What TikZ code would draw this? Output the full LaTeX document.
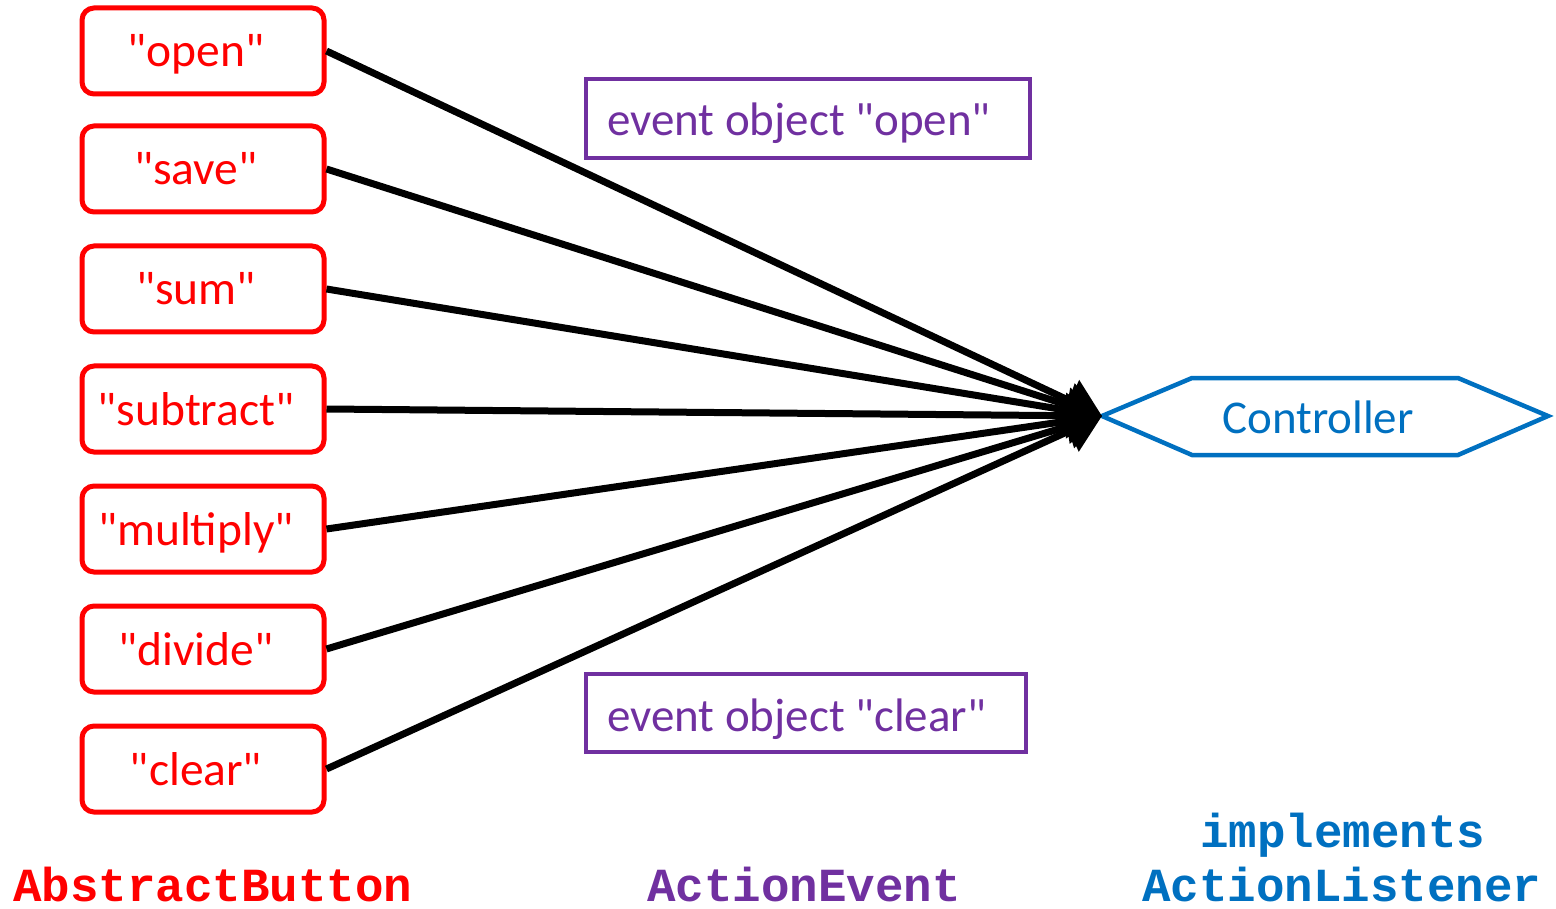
\documentclass[tikz,border=0pt]{standalone}
\usepackage{fontspec}
\setmainfont{Carlito}[Ligatures=TeXOff]
\newfontfamily\codefont{Liberation Mono}
\usetikzlibrary{arrows.meta}
\definecolor{btnred}{HTML}{FF0000}
\definecolor{evpurple}{HTML}{7030A0}
\definecolor{ctrlblue}{HTML}{0070C0}
\begin{document}
\begin{tikzpicture}[x=1pt,y=-1pt,
  btn/.style={draw=btnred, line width=5pt, rounded corners=12pt, text=btnred,
    minimum width=242pt, minimum height=86pt, inner sep=0pt,
    text height=34pt, text depth=2pt, font=\fontsize{47.5}{56}\selectfont,
    execute at end node={\hspace*{14pt}}},
  evtext/.style={text=evpurple, anchor=base west, inner sep=0pt, font=\fontsize{47}{56}\selectfont},
  conn/.style={line width=7pt, -{Triangle[length=36pt,width=44pt]}},
  code/.style={inner sep=0pt, anchor=base, font=\codefont\bfseries\fontsize{47.5}{56}\selectfont}
]
\useasboundingbox (0,0) rectangle (1556,909);

% buttons
\node[btn] (open) at (203,51) {"open"};
\node[btn] (save) at (203,169) {"save"};
\node[btn] (sum) at (203,289) {"sum"};
\node[btn] (subtract) at (203,409) {"subtract"};
\node[btn] (multiply) at (203,529) {"multiply"};
\node[btn] (divide) at (203,649) {"divide"};
\node[btn] (clear) at (203,769) {"clear"};

% controller hexagon
\coordinate (tip) at (1102,416);
\coordinate (htl) at (1192,378);
\coordinate (htr) at (1458,378);
\coordinate (hr) at (1548,416);
\coordinate (hbr) at (1458,455);
\coordinate (hbl) at (1192,455);
\draw[ctrlblue, line width=4.5pt, line join=miter] (tip) -- (htl) -- (htr) -- (hr) -- (hbr) -- (hbl) -- cycle;
\node[text=ctrlblue, anchor=base, inner sep=0pt, font=\fontsize{47}{56}\selectfont] (ctrl) at (1318,433) {Controller};

% connectors
\foreach \b in {open,save,sum,subtract,multiply,divide,clear}
  \draw[conn] (\b.east) -- (tip);

% event boxes
\draw[evpurple, line width=4pt] (586,79) rectangle (1030,158);
\node[evtext] (evopen) at (607,136) {event object "open"};
\draw[evpurple, line width=4pt] (586,674) rectangle (1026,752);
\node[evtext] (evclear) at (607,731) {event object "clear"};

% bottom labels
\node[code, text=btnred] (ab) at (213,901) {AbstractButton};
\node[code, text=evpurple] (ae) at (804,901) {ActionEvent};
\node[code, text=ctrlblue] (impl) at (1343,847) {implements};
\node[code, text=ctrlblue] (al) at (1342,901) {ActionListener};
\end{tikzpicture}
\end{document}
